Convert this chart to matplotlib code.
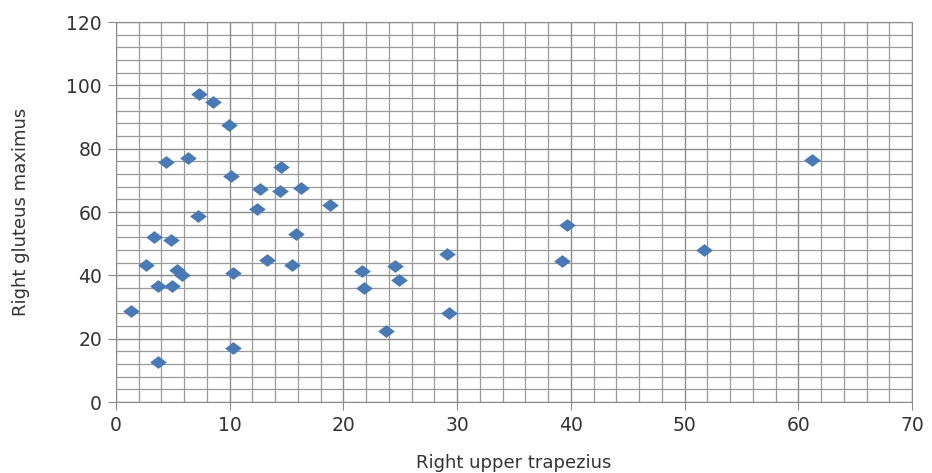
import matplotlib.pyplot as plt
from matplotlib.ticker import MultipleLocator

# Right upper trapezius (x) vs right gluteus maximus (y)
trapezius = [1.3, 2.6, 3.3, 3.7, 3.7, 4.4, 4.8, 4.9, 5.4, 5.8,
             6.3, 7.2, 7.3, 8.5, 9.9, 10.1, 10.3, 10.3, 12.4, 12.7,
             13.3, 14.5, 14.4, 15.8, 15.5, 16.3, 18.8, 21.6, 21.8, 23.7,
             24.5, 24.9, 29.1, 29.3, 39.7, 39.2, 51.7, 61.2]
gluteus = [28.7, 43.3, 52.1, 36.6, 12.6, 75.8, 51.2, 36.6, 41.7, 40.1,
           77.0, 58.7, 97.3, 94.7, 87.5, 71.4, 40.7, 17.0, 60.9, 67.3,
           44.8, 74.2, 66.6, 53.0, 43.3, 67.6, 62.2, 41.4, 36.0, 22.4,
           42.9, 38.5, 46.7, 28.1, 55.9, 44.5, 48.0, 76.4]

# Excel-like diamond, a bit wider than tall
diamond = [(-1.3, 0), (0, 1), (1.3, 0), (0, -1), (-1.3, 0)]

fig = plt.figure(figsize=(9.32, 4.73), dpi=100)
ax = fig.add_axes([116 / 932, 71 / 473, 796 / 932, 380 / 473])

ax.plot(trapezius, gluteus, linestyle="none", marker=diamond, markersize=12,
        color="#4a7ab5", markeredgewidth=0, zorder=3)

ax.set_xlim(0, 70)
ax.set_ylim(0, 120)
ax.xaxis.set_major_locator(MultipleLocator(10))
ax.xaxis.set_minor_locator(MultipleLocator(2))
ax.yaxis.set_major_locator(MultipleLocator(20))
ax.yaxis.set_minor_locator(MultipleLocator(4))

ax.grid(which="major", color="#8c8c8c", linewidth=1.0)
ax.grid(which="minor", color="#9a9a9a", linewidth=0.9)
ax.set_axisbelow(True)

for side in ax.spines.values():
    side.set_color("#8c8c8c")
ax.tick_params(which="major", length=6, color="#8c8c8c", labelsize=13.5,
               labelcolor="#333333", pad=4)
ax.tick_params(which="minor", length=0)

ax.set_xlabel("Right upper trapezius", fontsize=13, color="#333333", labelpad=14)
ax.set_ylabel("Right gluteus maximus", fontsize=13, color="#333333", labelpad=26)

fig.savefig("out.png", dpi=100)
